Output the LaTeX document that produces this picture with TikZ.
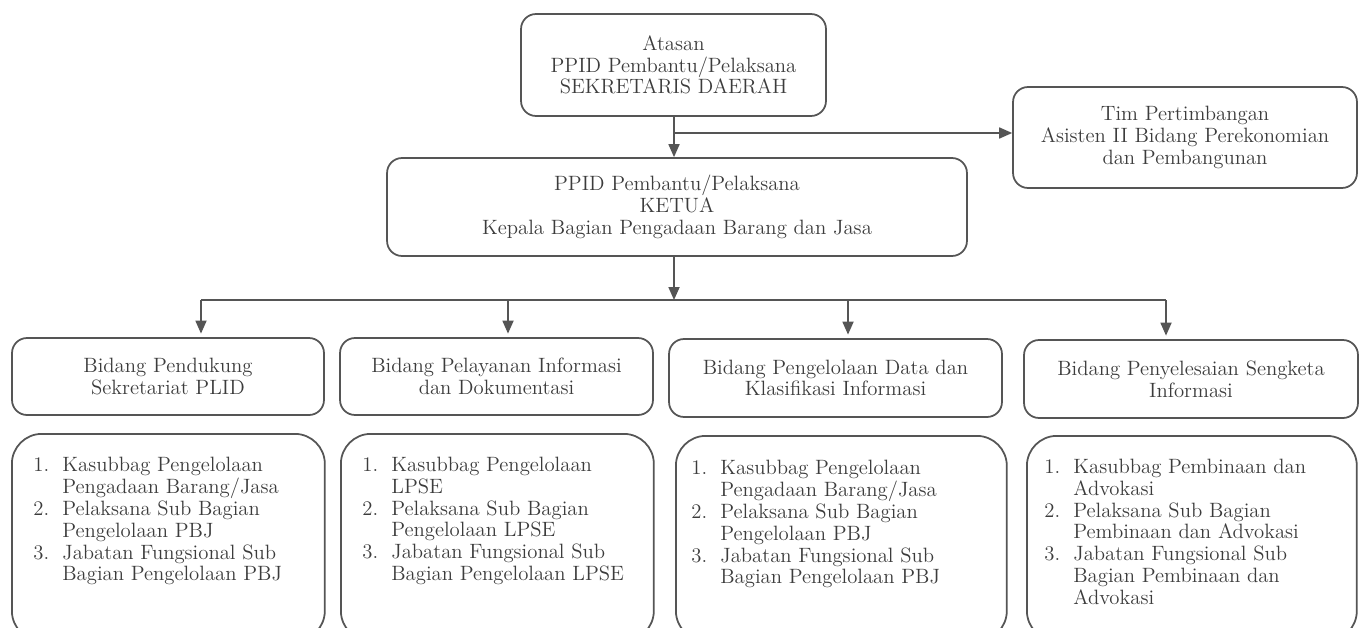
\documentclass[tikz,border=0pt]{standalone}
\usepackage{fontspec}
\usepackage{xcolor}
\usetikzlibrary{arrows.meta, positioning}

\definecolor{linegray}{HTML}{555555}
\definecolor{textgray}{HTML}{3C3C3C}

\tikzset{
    box/.style={draw=linegray, line width=1pt, rounded corners=0.3cm, align=center, text=textgray, inner sep=0pt, font=\fontsize{11.8}{12.4}\selectfont},
    listbox/.style={draw=linegray, line width=1pt, rounded corners=0.6cm, anchor=north west, inner sep=0pt},
    list/.style={anchor=north west, inner sep=0pt, text=textgray, font=\fontsize{11.8}{12.4}\selectfont},
    arr/.style={draw=linegray, line width=1pt, -{Triangle[length=0.26cm, width=0.22cm]}},
    link/.style={draw=linegray, line width=1pt}
}

\begin{document}
\begin{tikzpicture}[x=0.02cm, y=-0.02cm]
    \clip (0,0) rectangle (1361,628);
    \fill[white] (0,0) rectangle (1361,628);

    % Atasan
    \node[box, minimum width=6.1cm, minimum height=2.04cm] (atasan) at (673.5,65) {Atasan\\PPID Pembantu/Pelaksana\\SEKRETARIS DAERAH};

    % Tim Pertimbangan
    \node[box, minimum width=6.88cm, minimum height=2.02cm] (tim) at (1185,137.5) {Tim Pertimbangan\\Asisten II Bidang Perekonomian\\dan Pembangunan};

    % Ketua
    \node[box, minimum width=11.6cm, minimum height=1.96cm] (ketua) at (677,207) {PPID Pembantu/Pelaksana\\KETUA\\Kepala Bagian Pengadaan Barang dan Jasa};

    % Bidang
    \node[box, minimum width=6.24cm, minimum height=1.54cm] (bid1) at (168,376.5) {Bidang Pendukung\\Sekretariat PLID};
    \node[box, minimum width=6.26cm, minimum height=1.54cm] (bid2) at (496.5,376.5) {Bidang Pelayanan Informasi\\dan Dokumentasi};
    \node[box, minimum width=6.66cm, minimum height=1.56cm] (bid3) at (835.5,378) {Bidang Pengelolaan Data dan\\Klasifikasi Informasi};
    \node[box, minimum width=6.68cm, minimum height=1.56cm] (bid4) at (1191,379) {Bidang Penyelesaian Sengketa\\Informasi};

    % Anggota
    \node[listbox, minimum width=6.26cm, minimum height=4.14cm] (low1) at (11,433) {};
    \node[listbox, minimum width=6.26cm, minimum height=4.14cm] (low2) at (340,433) {};
    \node[listbox, minimum width=6.62cm, minimum height=4.1cm] (low3) at (675,435) {};
    \node[listbox, minimum width=6.6cm, minimum height=4.1cm] (low4) at (1026,435) {};

    \node[list] (txt1) at (33,456) {\begin{tabular}{@{}p{0.58cm}@{}l@{}}
        1. & Kasubbag Pengelolaan\\ & Pengadaan Barang/Jasa\\
        2. & Pelaksana Sub Bagian\\ & Pengelolaan PBJ\\
        3. & Jabatan Fungsional Sub\\ & Bagian Pengelolaan PBJ
    \end{tabular}};
    \node[list] (txt2) at (362,456) {\begin{tabular}{@{}p{0.58cm}@{}l@{}}
        1. & Kasubbag Pengelolaan\\ & LPSE\\
        2. & Pelaksana Sub Bagian\\ & Pengelolaan LPSE\\
        3. & Jabatan Fungsional Sub\\ & Bagian Pengelolaan LPSE
    \end{tabular}};
    \node[list] (txt3) at (691,459) {\begin{tabular}{@{}p{0.58cm}@{}l@{}}
        1. & Kasubbag Pengelolaan\\ & Pengadaan Barang/Jasa\\
        2. & Pelaksana Sub Bagian\\ & Pengelolaan PBJ\\
        3. & Jabatan Fungsional Sub\\ & Bagian Pengelolaan PBJ
    \end{tabular}};
    \node[list] (txt4) at (1044,458) {\begin{tabular}{@{}p{0.58cm}@{}l@{}}
        1. & Kasubbag Pembinaan dan\\ & Advokasi\\
        2. & Pelaksana Sub Bagian\\ & Pembinaan dan Advokasi\\
        3. & Jabatan Fungsional Sub\\ & Bagian Pembinaan dan\\ & Advokasi
    \end{tabular}};

    % Arrows from the top
    \coordinate (split) at (674,133);
    \draw[arr] (atasan.south -| split) -- (ketua.north -| split);
    \draw[arr] (split) -- (tim.west |- split);

    % Arrows to the bidang
    \coordinate (hub) at (674,300);
    \coordinate (j1) at (201,300);
    \coordinate (j2) at (508,300);
    \coordinate (j3) at (848,300);
    \coordinate (j4) at (1166,300);
    \draw[arr] (ketua.south -| hub) -- (hub);
    \draw[link] (j1) -- (j4);
    \foreach \j/\b in {j1/bid1, j2/bid2, j3/bid3, j4/bid4}
        \draw[arr, shorten >=2pt] (\j) -- (\j |- \b.north);
\end{tikzpicture}
\end{document}
